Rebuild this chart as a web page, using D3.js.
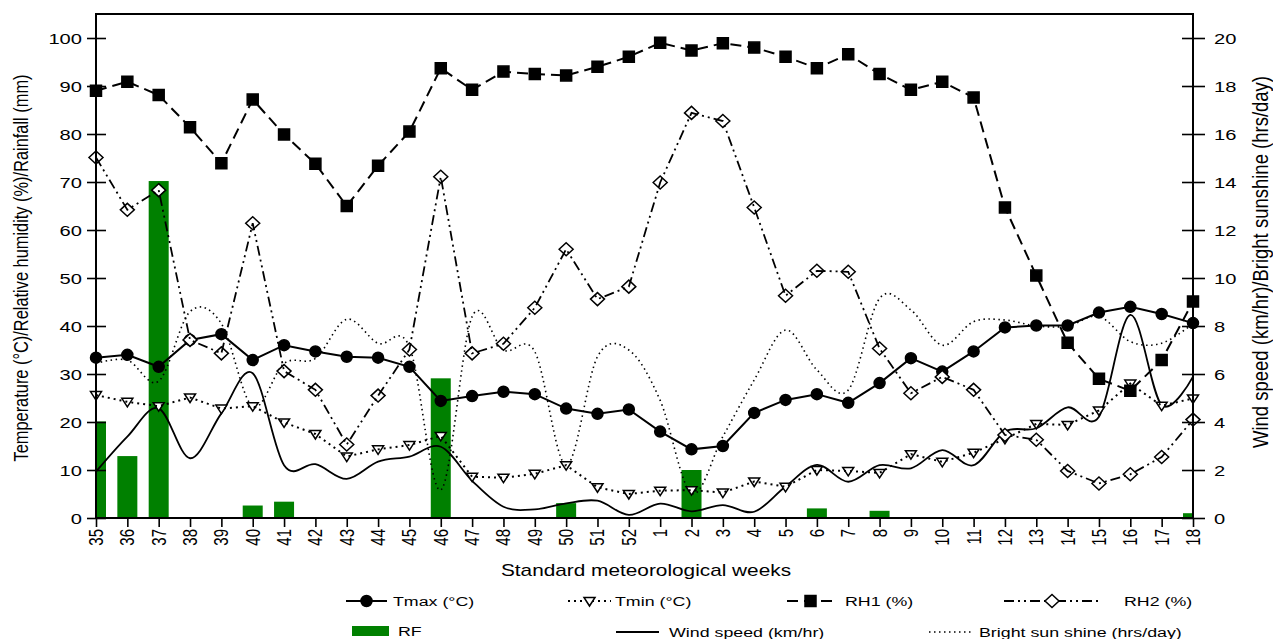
<!DOCTYPE html>
<html>
<head>
<meta charset="utf-8">
<script src="https://cdn.jsdelivr.net/npm/d3@7"></script>
<style>
    body { margin: 0; background: #fff; }
    text { font-family: "Liberation Sans", Arial, sans-serif; fill: #000; }
</style>
</head>
<body>
<div id="chart"></div>
<script>
//weekly data
const weeks = ["35","36","37","38","39","40","41","42","43","44","45","46","47","48","49","50","51","52",
    "1","2","3","4","5","6","7","8","9","10","11","12","13","14","15","16","17","18"];

const tmax = [33.4,34.0,31.5,37.1,38.3,32.9,36.0,34.7,33.6,33.4,31.5,24.4,25.4,26.3,25.8,22.8,21.7,22.6,
    18.0,14.3,15.0,21.9,24.6,25.8,24.0,28.1,33.3,30.5,34.7,39.7,40.1,40.1,42.8,44.0,42.5,40.6];
const tmin = [25.6,24.2,23.3,25.1,22.8,23.3,19.9,17.5,12.8,14.3,15.2,17.1,8.6,8.4,9.2,11.0,6.4,5.0,
    5.7,5.8,5.3,7.6,6.5,10.0,9.8,9.4,13.3,11.7,13.6,16.5,19.6,19.4,22.4,28.0,23.4,24.9];
const rh1 = [89.0,90.9,88.1,81.4,73.9,87.2,79.9,73.8,65.0,73.4,80.5,93.7,89.2,93.0,92.5,92.2,94.0,96.1,
    99.0,97.4,98.9,98.0,96.1,93.7,96.6,92.5,89.2,90.9,87.6,64.7,50.5,36.5,29.0,26.5,32.9,45.1];
const rh2 = [75.1,64.2,68.3,37.1,34.3,61.4,30.6,26.7,15.3,25.5,35.1,71.1,34.3,36.3,43.8,56.0,45.6,48.2,
    69.9,84.4,82.7,64.7,46.3,51.5,51.3,35.3,26.0,29.4,26.7,17.3,16.3,9.8,7.2,9.1,12.7,20.5];
const rainfall = [20.1,12.9,70.2,0,0,2.6,3.4,0,0,0,0,29.1,0,0,0,3.1,0,0,
    0,10.0,0,0,0,2.0,0,1.5,0,0,0,0,0,0,0,0,0,1.0];
const wind = [1.93,3.39,4.57,2.49,4.36,6.03,2.2,2.24,1.63,2.35,2.56,2.97,1.55,0.47,0.36,0.61,0.72,0.13,
    0.6,0.28,0.54,0.26,1.31,2.21,1.51,2.2,2.07,2.83,2.2,3.6,3.74,4.61,4.22,8.46,4.71,5.89];
const sunshine = [6.44,6.58,5.7,8.6,8.1,4.64,6.44,6.65,8.28,7.28,7.14,1.17,8.39,7.0,6.93,2.2,6.72,7.0,
    4.9,1.03,3.39,5.75,7.83,6.17,5.33,9.15,8.67,7.2,8.18,8.25,8.0,8.0,8.4,7.35,7.28,8.1];

const leftTicks = d3.range(0, 101, 10);
const rightTicks = d3.range(0, 21, 2);

const width = 1273, height = 639;
const plotLeft = 96, plotRight = 1193, plotTop = 14, plotBottom = 518;
const stretch = 1.3; // text in the figure is squashed sideways

const x = d3.scalePoint().domain(weeks).range([plotLeft, plotRight]);
const yL = d3.scaleLinear().domain([0, 105]).range([plotBottom, plotTop]);
const yR = d3.scaleLinear().domain([0, 21]).range([plotBottom, plotTop]);

var svg = d3.select("#chart")
    .append("svg")
    .attr("width", width)
    .attr("height", height);

svg.append("clipPath").attr("id", "plotclip")
    .append("rect")
    .attr("x", plotLeft).attr("y", plotTop)
    .attr("width", plotRight - plotLeft).attr("height", plotBottom - plotTop);

function label(g, str, px, py, size, anchor, rotated) {
    return g.append("text")
        .attr("transform", `translate(${px},${py}) scale(${stretch},1)` + (rotated ? " rotate(-90)" : ""))
        .attr("text-anchor", anchor)
        .style("font-size", size + "px")
        .text(str);
}

//marker shapes
const shapes = {
    circle: "M5.5,0A5.5,5.5 0 1,1 -5.5,0A5.5,5.5 0 1,1 5.5,0Z",
    square: "M-5.5,-5.5H5.5V5.5H-5.5Z",
    triangle: "M-5.5,-3.5H5.5L0,5Z",
    diamond: "M0,-6.5L7,0L0,6.5L-7,0Z"
};

const series = [
    {name: "Tmax (°C)", values: tmax, dash: null, width: 2, shape: "circle", fill: "#000"},
    {name: "Tmin (°C)", values: tmin, dash: "2,4", width: 2, shape: "triangle", fill: "#fff"},
    {name: "RH1 (%)", values: rh1, dash: "11,6", width: 2, shape: "square", fill: "#000"},
    {name: "RH2 (%)", values: rh2, dash: "10,4,2,4,2,4", width: 1.8, shape: "diamond", fill: "#fff"}
];

//rainfall bars
svg.append("g")
    .attr("clip-path", "url(#plotclip)")
    .selectAll("rect")
    .data(weeks.map((w, i) => ({w: w, v: rainfall[i]})).filter(d => d.v > 0))
    .enter()
    .append("rect")
    .attr("x", d => x(d.w) - 10)
    .attr("y", d => yL(d.v))
    .attr("width", 20)
    .attr("height", d => plotBottom - yL(d.v))
    .attr("fill", "#008000");

//right axis curves
const smooth = d3.line()
    .curve(d3.curveCardinal)
    .x((d, i) => x(weeks[i]))
    .y(d => yR(d));

svg.append("path")
    .attr("d", smooth(sunshine))
    .attr("fill", "none")
    .attr("stroke", "#000")
    .attr("stroke-width", 1.6)
    .attr("stroke-dasharray", "1.5,3.5");

svg.append("path")
    .attr("d", smooth(wind))
    .attr("fill", "none")
    .attr("stroke", "#000")
    .attr("stroke-width", 1.8);

//left axis lines with markers
const straight = d3.line()
    .x((d, i) => x(weeks[i]))
    .y(d => yL(d));

series.forEach(function(s) {
    svg.append("g")
        .selectAll("path")
        .data(s.values)
        .enter()
        .append("path")
        .attr("d", shapes[s.shape])
        .attr("transform", (d, i) => `translate(${x(weeks[i])},${yL(d)})`)
        .attr("fill", s.fill)
        .attr("stroke", "#000")
        .attr("stroke-width", 1.5);

    svg.append("path")
        .attr("d", straight(s.values))
        .attr("fill", "none")
        .attr("stroke", "#000")
        .attr("stroke-width", s.width)
        .attr("stroke-dasharray", s.dash);
});

//axes
var axL = svg.append("g")
    .attr("transform", `translate(${plotLeft},0)`)
    .call(d3.axisLeft(yL).tickValues(leftTicks).tickSize(9).tickFormat(""));
axL.select(".domain").remove();
axL.selectAll(".tick line").attr("x1", 10).attr("x2", -9).attr("stroke-width", 1.6);

var axR = svg.append("g")
    .attr("transform", `translate(${plotRight},0)`)
    .call(d3.axisRight(yR).tickValues(rightTicks).tickSize(12).tickFormat(""));
axR.select(".domain").remove();
axR.selectAll(".tick line").attr("x1", -11).attr("x2", 12).attr("stroke-width", 1.6);

var axB = svg.append("g")
    .attr("transform", `translate(0,${plotBottom})`)
    .call(d3.axisBottom(x).tickSize(9).tickFormat(""));
axB.select(".domain").remove();
axB.selectAll(".tick line").attr("stroke-width", 1.6);

svg.append("path")
    .attr("d", `M${plotLeft},${plotBottom}V${plotTop}H${plotRight}V${plotBottom}Z`)
    .attr("fill", "none")
    .attr("stroke", "#000")
    .attr("stroke-width", 2);

leftTicks.forEach(v => label(svg, v, plotLeft - 14, yL(v) + 5.5, 15.5, "end"));
rightTicks.forEach(v => label(svg, v, plotRight + 21, yR(v) + 5.5, 15.5, "start"));
weeks.forEach(w => label(svg, w, x(w) + 7, plotBottom + 11, 15, "end", true));

label(svg, "Standard meteorological weeks", 646, 576, 16, "middle");
label(svg, "Temperature (°C)/Relative humidity (%)/Rainfall (mm)", 28, 268, 16, "middle", true)
    .attr("textLength", 387).attr("lengthAdjust", "spacingAndGlyphs");
label(svg, "Wind speed (km/hr)/Bright sunshine (hrs/day)", 1268, 262, 16.5, "middle", true)
    .attr("textLength", 372).attr("lengthAdjust", "spacingAndGlyphs");

//legend
var legend = svg.append("g");
const legendRow1 = [
    {s: series[0], x1: 346, x2: 387, tx: 393},
    {s: series[1], x1: 568, x2: 611, tx: 615},
    {s: series[2], x1: 787, x2: 834, tx: 845},
    {s: series[3], x1: 1004, x2: 1100, tx: 1124}
];
legendRow1.forEach(function(d) {
    const ly = 601;
    legend.append("line")
        .attr("x1", d.x1).attr("x2", d.x2).attr("y1", ly).attr("y2", ly)
        .attr("stroke", "#000")
        .attr("stroke-width", d.s.width)
        .attr("stroke-dasharray", d.s.dash);
    legend.append("path")
        .attr("d", shapes[d.s.shape])
        .attr("transform", `translate(${(d.x1 + d.x2) / 2},${ly})`)
        .attr("fill", d.s.fill)
        .attr("stroke", "#000")
        .attr("stroke-width", 1.5);
    label(legend, d.s.name, d.tx, ly + 5, 13.7, "start");
});

legend.append("rect")
    .attr("x", 352).attr("y", 626).attr("width", 37).attr("height", 10)
    .attr("fill", "#008000");
label(legend, "RF", 398, 636, 13.7, "start");

legend.append("line")
    .attr("x1", 616).attr("x2", 659).attr("y1", 632).attr("y2", 632)
    .attr("stroke", "#000").attr("stroke-width", 1.8);
label(legend, "Wind speed (km/hr)", 669, 637, 13.7, "start");

legend.append("line")
    .attr("x1", 929).attr("x2", 971).attr("y1", 632).attr("y2", 632)
    .attr("stroke", "#000").attr("stroke-width", 1.6)
    .attr("stroke-dasharray", "1.5,3.5");
label(legend, "Bright sun shine (hrs/day)", 979, 637, 13.7, "start");
</script>
</body>
</html>
